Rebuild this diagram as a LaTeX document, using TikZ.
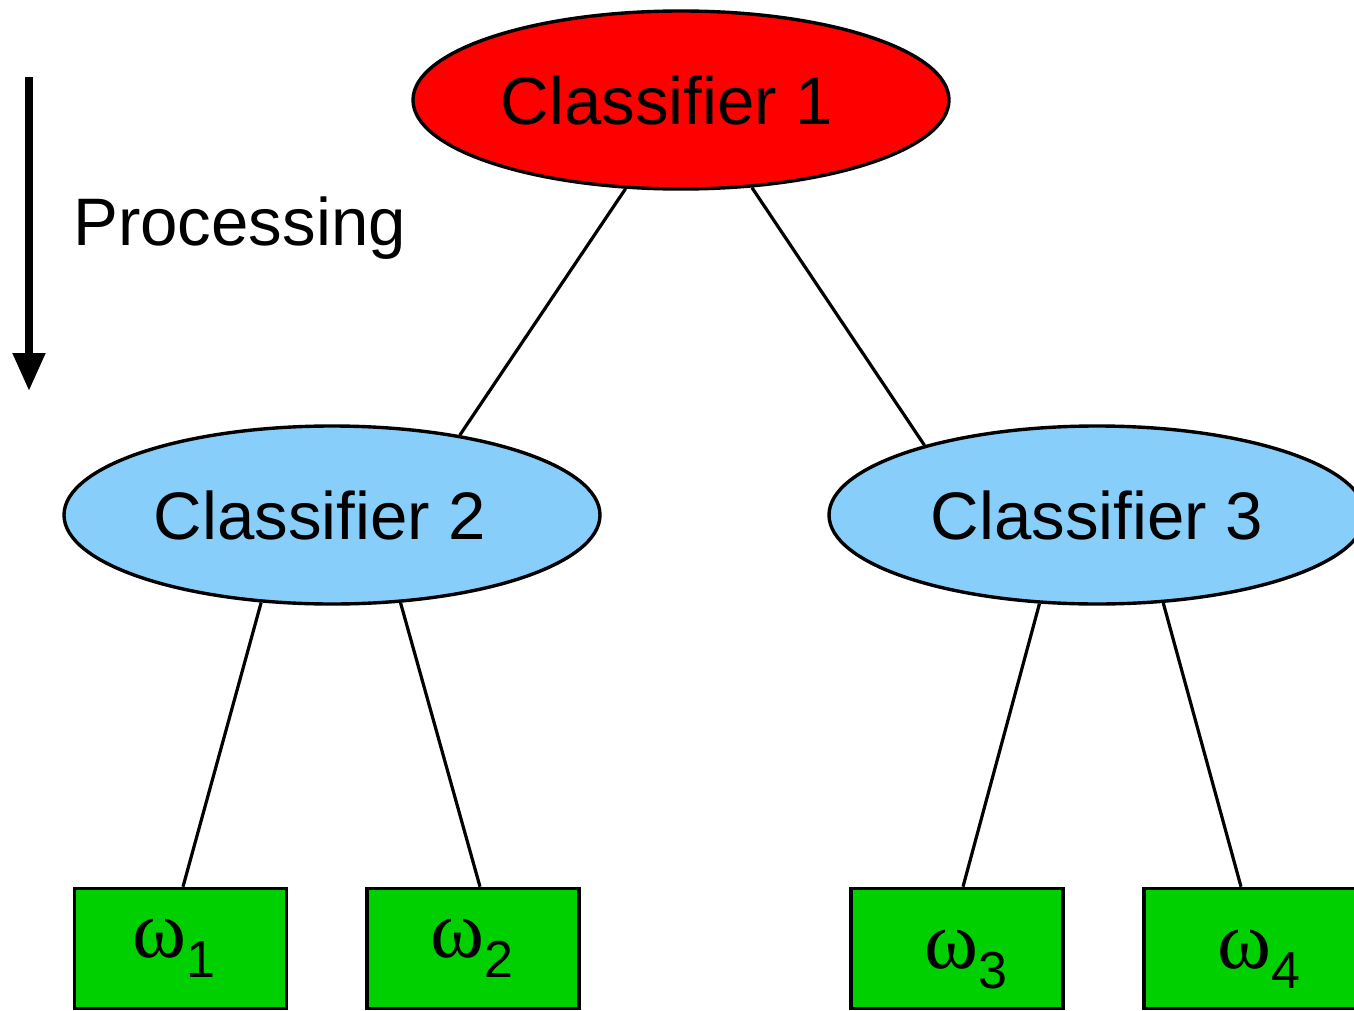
\documentclass[tikz,border=0pt]{standalone}
\usepackage{fontspec}
\setmainfont{Liberation Sans}
\newfontfamily\grkfont{Liberation Serif}
\usetikzlibrary{arrows.meta,shapes.geometric}
\definecolor{clred}{RGB}{255,0,0}
\definecolor{clblue}{RGB}{135,206,250}
\definecolor{clgreen}{RGB}{0,208,0}
\newcommand{\omlab}[1]{{\grkfont\fontsize{41}{48}\selectfont ω}\raisebox{-10pt}{\fontsize{26}{30}\selectfont #1}}
\begin{document}
\begin{tikzpicture}[x=0.5pt,y=-0.5pt,
  classifier/.style={ellipse,draw,line width=1.7pt,minimum width=268pt,minimum height=89pt,inner sep=0pt,font=\fontsize{33.6}{40}\selectfont},
  leaf/.style={rectangle,draw,line width=1.8pt,fill=clgreen,minimum width=106pt,minimum height=60pt,inner sep=0pt,text depth=10pt},
  link/.style={line width=1.6pt},
  flow/.style={line width=4pt,-{Triangle[width=15.5pt,length=19pt]}}]
\useasboundingbox (0,0) rectangle (1354,1011);
\clip (0,0) rectangle (1354,1011);
\fill[white] (0,0) rectangle (1354,1011);

\node[classifier,fill=clred] (c1) at (681,100) {Classifier 1\hspace*{14pt}};
\node[classifier,fill=clblue] (c2) at (332,515) {Classifier 2\hspace*{12pt}};
\node[classifier,fill=clblue] (c3) at (1097,515) {Classifier 3};

\node[leaf,text height=18.5pt] (w1) at (180.5,948.5) {\omlab{1}\hspace*{7pt}};
\node[leaf,text height=18.5pt] (w2) at (473,948.5) {\omlab{2}\hspace*{1pt}};
\node[leaf,text height=29.5pt] (w3) at (957,948.5) {\hspace*{9pt}\omlab{3}};
\node[leaf,text height=29.5pt] (w4) at (1250,948.5) {\hspace*{8.5pt}\omlab{4}};

\draw[link] (c1.238) -- (c2.32.7);
\draw[link] (c1.309) -- (c3.158);
\draw[link] (c2.231) -- ([xshift=1.25pt]w1.north);
\draw[link] (c2.308.6) -- ([xshift=3.5pt]w2.north);
\draw[link] (c3.237.8) -- ([xshift=3pt]w3.north);
\draw[link] (c3.307) -- ([xshift=-4.5pt]w4.north);

\coordinate (ptop) at (29,77);
\coordinate (pbot) at (29,391);
\draw[flow] (ptop) -- (pbot);
\node[anchor=base west,inner sep=0pt,font=\fontsize{33.6}{40}\selectfont] (proc) at (73,245) {Processing};
\end{tikzpicture}
\end{document}
